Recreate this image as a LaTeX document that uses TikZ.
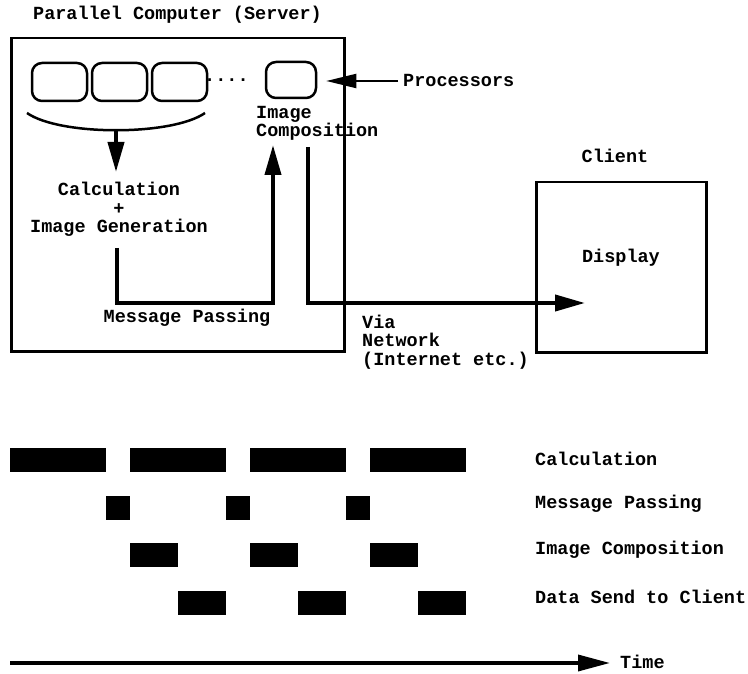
\documentclass[tikz,border=0pt]{standalone}
\usepackage{fontspec}
\setmonofont{Liberation Mono}
\usetikzlibrary{arrows.meta,positioning,calc}

\begin{document}
\begin{tikzpicture}[
    x=1pt, y=-1pt,
    font=\ttfamily\bfseries\fontsize{18.5}{18.5}\selectfont,
    proc/.style={draw, line width=2.5pt, rounded corners=10pt, minimum width=55pt, minimum height=38pt, inner sep=0pt},
    frame/.style={draw, line width=2.5pt, inner sep=0pt, anchor=north west},
    flow/.style={line width=4pt, -{Triangle[length=30pt, width=16pt]}},
    lbl/.style={inner sep=0pt},
    bar/.style={fill=black}
]
    \useasboundingbox (0,0) rectangle (748,674);

    % Server
    \node[lbl, anchor=base west] (title) at (33,20) {Parallel Computer (Server)};
    \node[frame, minimum width=333pt, minimum height=313pt] (server) at (10,37) {};
    \node[proc] (p1) at (59.5,82) {};
    \node[proc] (p2) at (119.5,82) {};
    \node[proc] (p3) at (179.5,82) {};
    \node[lbl, anchor=base west] (dots) at (204,82) {....};
    \node[proc, minimum width=50pt, minimum height=36pt] (p4) at (291,80) {};
    \node[anchor=base west, inner sep=5pt] (plabel) at (398,87) {Processors};
    \draw[line width=2pt, -{Triangle[length=30pt, width=14pt]}, shorten >=9pt]
        (plabel.west) -- (p4.east |- plabel.west);

    \draw[line width=2.5pt] (27,113) .. controls (60,136) and (172,136) .. (205,113);
    \coordinate (arcmid) at (116,130);
    \node[lbl, align=center, anchor=base] (calc) at (119,233) {Calculation\\+\\Image Generation};
    \coordinate (calctop) at (116,172);
    \draw[flow] (arcmid) -- (calctop);

    \node[lbl, align=left, anchor=base west] (icomp) at (256,137) {Image\\Composition};

    % Message passing
    \coordinate (mpstart) at (117,248);
    \coordinate (mptip) at (273,145);
    \draw[flow] (mpstart) -- ++(0,55) -| (mptip);
    \node[lbl, anchor=base] (mplabel) at (187,323) {Message Passing};

    % Client
    \node[lbl, anchor=base] (clabel) at (615,163) {Client};
    \node[frame, minimum width=170pt, minimum height=170pt] (client) at (535,181) {};
    \node[lbl, anchor=base] (display) at (621,263) {Display};
    \coordinate (netstart) at (308,147);
    \coordinate (nettip) at (585,303);
    \draw[flow] (netstart) |- (nettip);
    \node[lbl, align=left, anchor=base west] (via) at (362,365) {Via\\Network\\(Internet etc.)};

    % Timing chart
    \foreach \k in {0,...,3} \fill[bar] (10+120*\k,448) rectangle ++(96,24);
    \foreach \k in {0,1,2} {
        \fill[bar] (106+120*\k,496) rectangle ++(24,24);
        \fill[bar] (130+120*\k,543) rectangle ++(48,24);
        \fill[bar] (178+120*\k,591) rectangle ++(48,24);
    }
    \node[lbl, anchor=base west] (tcalc) at (535,465) {Calculation};
    \node[lbl, anchor=base west] (tmsg) at (535,508) {Message Passing};
    \node[lbl, anchor=base west] (timg) at (535,554) {Image Composition};
    \node[lbl, anchor=base west] (tdata) at (535,603) {Data Send to Client};

    \node[lbl, anchor=base west] (time) at (620,668) {Time};
    \coordinate (tstart) at (10,663);
    \draw[line width=3.5pt, -{Triangle[length=32pt, width=16pt]}, shorten >=10pt]
        (tstart) -- (tstart -| time.west);
\end{tikzpicture}
\end{document}
